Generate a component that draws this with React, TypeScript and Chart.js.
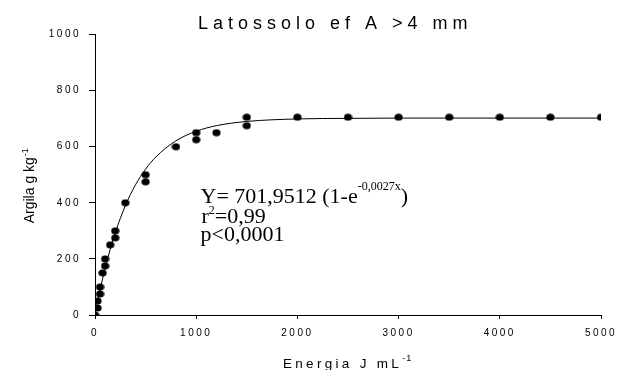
import React, { useEffect, useRef } from "react";
import { Chart, registerables } from "chart.js";

Chart.register(...registerables);

const chartTitle = "Latossolo ef A >4 mm";
const yTitle = "Argila g kg";
const xTitle = "Energia J mL";
const eqLine1 = "Y= 701,9512 (1-e";
const eqLine1Sup = "-0,0027x";
const eqLine2a = "r";
const eqLine2Sup = "2";
const eqLine2b = "=0,99";
const eqLine3 = "p<0,0001";

// observed points
const energia = [0, 25, 25, 50, 50, 75, 100, 100, 150, 200, 200, 300, 500, 500, 800, 1000, 1000, 1200, 1500, 1500, 2000, 2500, 3000, 3500, 4000, 4500, 5000];
const argila = [0, 25, 50, 75, 100, 150, 175, 200, 250, 275, 300, 400, 475, 500, 600, 625, 650, 650, 675, 705, 705, 705, 705, 705, 705, 705, 705];

// fitted curve
const curveX = [0, 25, 50, 75, 100, 150, 200, 300, 400, 500, 600, 800, 1000, 1200, 1500, 2000, 2500, 3000, 4000, 5000];
const curveY = [0, 46, 89, 129, 166, 234, 293, 390, 464, 520, 563, 621, 655, 675, 690, 699, 701, 702, 702, 702];

const xMin = 0;
const xMax = 5000;
const xStep = 1000;
const yMin = 0;
const yMax = 1000;
const yStep = 200;

export default function App() {
  const ref = useRef<HTMLCanvasElement | null>(null);

  useEffect(() => {
    const canvas = ref.current;
    if (!canvas) return;

    const dot = document.createElement("canvas");
    dot.width = 9;
    dot.height = 8;
    const dctx = dot.getContext("2d")!;
    dctx.fillStyle = "#000";
    dctx.beginPath();
    dctx.ellipse(4.5, 4, 4.1, 3.5, 0, 0, Math.PI * 2);
    dctx.fill();

    const textPlugin = {
      id: "texts",
      beforeUpdate(chart: any) {
        chart.ctx.letterSpacing = "2.5px";
      },
      beforeDraw(chart: any) {
        chart.ctx.letterSpacing = "2.5px";
      },
      afterDraw(chart: any) {
        const ctx = chart.ctx as CanvasRenderingContext2D;
        ctx.save();
        ctx.fillStyle = "#000";
        ctx.textAlign = "left";
        ctx.textBaseline = "alphabetic";

        // title
        (ctx as any).letterSpacing = "5px";
        ctx.font = '18px "Liberation Sans", Arial, sans-serif';
        ctx.fillText(chartTitle, 198, 29);

        // x title
        (ctx as any).letterSpacing = "3.3px";
        ctx.font = '13.5px "Liberation Sans", Arial, sans-serif';
        const xw = ctx.measureText(xTitle).width;
        ctx.fillText(xTitle, 283, 367.5);
        ctx.font = '9px "Liberation Sans", Arial, sans-serif';
        (ctx as any).letterSpacing = "1px";
        ctx.fillText("-1", 283 + xw, 361);

        // y title
        ctx.save();
        ctx.translate(34, 223.3);
        ctx.rotate(-Math.PI / 2);
        (ctx as any).letterSpacing = "0px";
        ctx.font = '14px "Liberation Sans", Arial, sans-serif';
        const yw = ctx.measureText(yTitle).width;
        ctx.fillText(yTitle, 0, 0);
        ctx.font = '9px "Liberation Sans", Arial, sans-serif';
        ctx.fillText("-1", yw + 1, -6);
        ctx.restore();

        // equation
        (ctx as any).letterSpacing = "0px";
        const big = '22px "Liberation Serif", "Times New Roman", serif';
        const small = '12px "Liberation Serif", "Times New Roman", serif';
        let x = 200.5;
        ctx.font = big;
        ctx.fillText(eqLine1, x, 203);
        x += ctx.measureText(eqLine1).width;
        ctx.font = small;
        ctx.fillText(eqLine1Sup, x, 190);
        x += ctx.measureText(eqLine1Sup).width;
        ctx.font = big;
        ctx.fillText(")", x, 203);

        x = 201.5;
        ctx.font = big;
        ctx.fillText(eqLine2a, x, 222.5);
        x += ctx.measureText(eqLine2a).width;
        ctx.font = small;
        ctx.fillText(eqLine2Sup, x, 213.5);
        x += ctx.measureText(eqLine2Sup).width;
        ctx.font = big;
        ctx.fillText(eqLine2b, x, 222.5);

        ctx.fillText(eqLine3, 200.5, 241);
        ctx.restore();
      },
    };

    const points = energia.map((e, i) => ({ x: e, y: argila[i] }));
    const curve = curveX.map((e, i) => ({ x: e, y: curveY[i] }));

    const chart = new Chart(canvas, {
      type: "scatter",
      data: {
        datasets: [
          {
            label: "obs",
            data: points,
            pointStyle: dot as any,
            pointRadius: 4,
            showLine: false,
          },
          {
            label: "fit",
            data: curve,
            showLine: true,
            borderColor: "#000",
            borderWidth: 1,
            pointRadius: 0,
            cubicInterpolationMode: "monotone",
            fill: false,
          },
        ],
      },
      options: {
        responsive: false,
        animation: false,
        devicePixelRatio: 1,
        layout: { padding: { top: 34.5, right: 18, left: 0, bottom: 0 } },
        plugins: {
          legend: { display: false },
          tooltip: { enabled: false },
          title: { display: false },
        },
        scales: {
          x: {
            type: "linear",
            min: xMin,
            max: xMax,
            ticks: {
              stepSize: xStep,
              color: "#000",
              font: { family: '"Liberation Sans", Arial, sans-serif', size: 10 },
              padding: 8,
              maxRotation: 0,
              callback: (v: any) => String(v),
            },
            grid: { drawOnChartArea: false, drawTicks: true, tickLength: 4, color: "#000" },
            border: { display: true, color: "#000", width: 1 },
            afterFit: (s: any) => {
              s.height = 55;
              s.paddingLeft = 0;
              s.paddingRight = 0;
            },
          },
          y: {
            type: "linear",
            min: yMin,
            max: yMax,
            ticks: {
              stepSize: yStep,
              color: "#000",
              font: { family: '"Liberation Sans", Arial, sans-serif', size: 10 },
              padding: 8,
              callback: (v: any) => String(v),
            },
            grid: { drawOnChartArea: false, drawTicks: true, tickLength: 6, color: "#000" },
            border: { display: true, color: "#000", width: 1 },
            afterFit: (s: any) => {
              s.width = 95;
              s.paddingTop = 0;
              s.paddingBottom = 0;
            },
          },
        },
      },
      plugins: [textPlugin],
    });

    return () => chart.destroy();
  }, []);

  return (
    <div style={{ position: "absolute", left: 0, top: 0, width: 619, height: 370, background: "#fff" }}>
      <canvas ref={ref} width={619} height={370} />
    </div>
  );
}
